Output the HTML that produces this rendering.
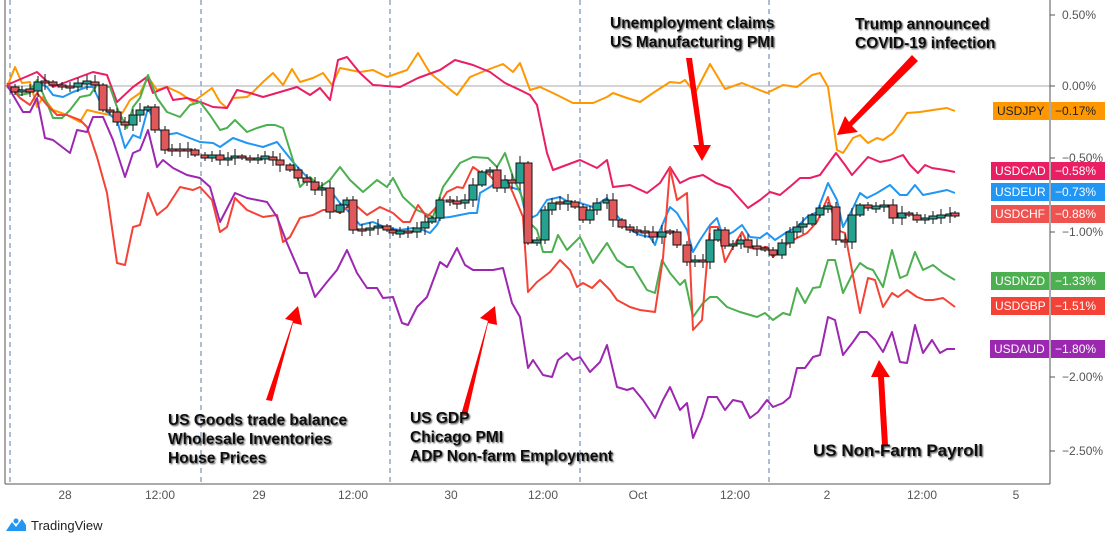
<!DOCTYPE html>
<html><head><meta charset="utf-8"><style>
html,body{margin:0;padding:0;background:#fff;width:1108px;height:538px;overflow:hidden}
svg{display:block;font-family:"Liberation Sans",sans-serif}
.ann{font-weight:bold;font-size:15.5px;fill:#111;filter:url(#sh)}
.ax{font-size:12px;fill:#555}
.ln{fill:none;stroke-width:2;stroke-linejoin:round}
</style></head><body>
<svg id="s" width="1108" height="538" viewBox="0 0 1108 538">
<defs><filter id="sh" x="-5%" y="-20%" width="110%" height="150%"><feDropShadow dx="1.2" dy="1.2" stdDeviation="0.8" flood-color="#444" flood-opacity="0.9"/></filter></defs>
<rect width="1108" height="538" fill="#fff"/>
<g stroke="#5a7bb0" stroke-dasharray="5,4" stroke-width="1">
<line x1="10" y1="0" x2="10" y2="484"/><line x1="201" y1="0" x2="201" y2="484"/><line x1="390" y1="0" x2="390" y2="484"/><line x1="580" y1="0" x2="580" y2="484"/><line x1="769" y1="0" x2="769" y2="484"/>
</g>
<line x1="5" y1="86" x2="1050" y2="86" stroke="#aaa" stroke-width="1"/>
<line x1="5" y1="0" x2="5" y2="484" stroke="#555"/>
<line x1="1050" y1="0" x2="1050" y2="484" stroke="#555"/>
<line x1="5" y1="484" x2="1050" y2="484" stroke="#555"/>
<g class="ax">
<text x="1062" y="19">0.50%</text><text x="1062" y="90">0.00%</text><text x="1062" y="162">−0.50%</text><text x="1062" y="236">−1.00%</text><text x="1062" y="381">−2.00%</text><text x="1062" y="455">−2.50%</text>
<text x="65" y="499" text-anchor="middle">28</text><text x="160" y="499" text-anchor="middle">12:00</text><text x="259" y="499" text-anchor="middle">29</text><text x="353" y="499" text-anchor="middle">12:00</text><text x="451" y="499" text-anchor="middle">30</text><text x="543" y="499" text-anchor="middle">12:00</text><text x="638" y="499" text-anchor="middle">Oct</text><text x="735" y="499" text-anchor="middle">12:00</text><text x="827" y="499" text-anchor="middle">2</text><text x="922" y="499" text-anchor="middle">12:00</text><text x="1016" y="499" text-anchor="middle">5</text>
</g>
<g stroke="#555"><line x1="1050" y1="15" x2="1055" y2="15"/><line x1="1050" y1="86" x2="1055" y2="86"/><line x1="1050" y1="158" x2="1055" y2="158"/><line x1="1050" y1="232" x2="1055" y2="232"/><line x1="1050" y1="377" x2="1055" y2="377"/><line x1="1050" y1="451" x2="1055" y2="451"/></g>

<polyline class="ln" stroke="#ff9800" points="7,87 15,67 22,83 30,82 37,107 43,97 53,110 67,115 80,122 87,110 100,113 110,115 118,117 123,112 130,100 140,93 148,77 157,90 167,87 180,93 193,102 212,88 220,102 227,108 233,98 247,97 253,92 263,82 273,73 283,85 292,69 300,82 313,78 323,73 332,85 340,68 360,72 373,70 387,77 407,70 418,53 430,73 447,87 457,95 470,77 487,70 503,64 513,72 520,63 530,90 540,87 553,93 573,103 593,103 607,97 613,93 627,98 640,102 653,93 670,82 680,83 685,80 695,93 710,64 725,89 742,83 752,87 767,93 783,85 797,87 812,75 820,73 828,87 837,150 843,153 853,138 860,135 868,143 877,138 883,140 893,133 907,113 920,112 933,110 947,108 955,111"/>
<polyline class="ln" stroke="#e91e63" points="7,85 37,72 53,87 93,72 107,75 117,102 133,87 147,77 153,93 167,87 173,100 187,98 203,103 213,107 227,108 237,90 250,93 263,97 287,90 297,87 310,95 320,88 330,100 338,60 347,57 360,73 373,85 400,87 418,78 440,70 455,60 473,65 490,72 505,83 520,90 530,95 537,105 547,153 553,170 580,160 597,168 607,160 613,187 630,185 647,193 660,183 670,167 680,183 690,178 703,175 716,183 730,188 748,208 760,200 770,192 780,195 792,185 800,178 810,178 820,175 836,153 845,165 852,175 868,157 880,162 890,160 903,155 910,165 918,173 925,165 932,168 945,170 955,172"/>
<polyline class="ln" stroke="#2196f3" points="7,87 20,90 27,92 37,82 47,87 53,95 63,97 73,92 87,87 93,87 100,102 110,115 117,120 125,148 133,135 140,138 148,108 157,127 165,135 177,133 187,137 200,142 213,143 220,147 233,138 247,143 263,147 277,142 293,162 307,177 320,187 330,190 340,203 350,213 360,225 373,222 387,228 400,230 413,228 423,230 430,233 437,225 440,218 450,217 470,213 477,213 480,193 490,187 500,180 510,187 520,190 527,220 537,215 547,200 560,197 570,203 580,203 593,207 607,198 615,213 627,228 640,235 650,237 655,245 660,230 670,207 677,213 687,230 693,252 700,240 710,225 717,218 723,237 733,232 742,225 750,237 760,238 767,233 775,240 787,232 797,227 807,217 817,212 828,183 837,200 843,227 852,210 860,193 867,198 877,193 890,185 900,195 907,195 915,185 923,195 933,193 947,190 955,193"/>
<polyline class="ln" stroke="#4caf50" points="7,87 20,95 30,93 37,80 47,103 53,118 62,118 70,110 80,97 90,95 97,85 110,87 118,110 127,128 133,107 140,98 148,75 157,98 167,112 180,117 190,105 200,102 210,115 220,130 227,128 235,120 247,132 257,128 267,125 275,125 283,128 293,160 300,187 310,177 320,187 330,180 340,167 350,180 363,192 377,180 387,187 393,178 403,197 417,210 433,217 443,187 460,163 473,157 488,158 497,167 505,153 513,177 522,197 530,223 537,230 543,252 552,252 558,235 567,250 580,237 593,263 607,243 617,260 627,267 633,267 647,290 655,293 662,260 670,273 680,285 685,280 693,317 703,303 710,297 717,297 727,307 740,312 757,317 765,313 773,320 783,313 790,315 797,288 805,303 813,288 820,287 828,260 835,260 843,293 852,275 860,263 867,268 873,270 883,287 892,250 900,278 907,275 915,252 923,270 933,265 943,273 955,280"/>
<polyline class="ln" stroke="#f44336" points="7,83 20,98 30,105 37,93 47,105 57,115 67,115 80,120 87,127 97,157 107,193 117,263 125,265 133,227 140,225 148,193 157,215 167,207 180,187 193,190 200,187 212,200 220,232 227,227 235,198 247,210 263,217 277,215 283,242 290,237 300,218 313,215 323,210 333,210 340,213 353,203 367,215 380,207 393,213 403,222 410,222 418,205 427,217 440,203 447,192 457,187 463,188 473,167 480,172 487,173 497,183 507,180 513,193 523,217 528,292 537,282 550,272 560,260 570,270 577,287 583,283 592,288 600,280 610,290 617,300 630,307 640,310 655,312 663,258 670,168 677,200 687,193 693,330 702,320 710,227 718,227 725,262 733,247 742,232 750,248 760,248 767,247 773,257 783,247 790,242 797,238 807,233 817,222 828,197 837,230 845,233 860,313 868,278 875,280 883,307 892,293 898,297 907,290 917,297 925,300 933,300 943,298 955,307"/>
<polyline class="ln" stroke="#9c27b0" points="7,85 23,112 30,112 37,98 45,138 53,140 70,153 77,130 87,132 93,117 103,117 113,140 125,177 133,153 140,150 148,130 157,167 163,160 173,168 187,175 200,178 210,187 220,222 235,193 247,198 267,202 277,217 287,243 300,273 307,273 315,297 327,282 337,270 347,250 357,273 367,288 377,288 383,298 393,297 402,323 408,325 417,307 427,297 440,262 447,267 457,248 465,265 473,270 493,270 503,268 512,303 520,317 528,368 533,360 543,375 552,377 558,360 567,353 573,360 580,357 590,372 600,362 607,345 617,387 627,390 633,388 643,400 655,418 663,400 670,387 680,410 687,403 693,438 702,417 708,397 717,397 725,410 733,400 742,402 750,418 758,412 767,400 773,407 783,403 790,397 797,368 805,368 813,357 820,355 828,317 835,320 843,355 853,342 860,332 867,332 875,340 883,352 892,332 900,362 907,363 915,325 923,353 932,340 940,353 947,349 955,349"/>
<g id="candles"></g>

<g fill="#ff0000">
<polygon points="266,400 272,401 293,323 302,325 298,306 285,319 293,321"/>
<polygon points="461,415 467,416 488,323 497,325 495,306 480,318 488,321"/>
<polygon points="686,58 692,58 704,145 711,145 702,161 693,145 699,145"/>
<polygon points="912,55 918,61 852,126 858,132 837,135 845,116 849,122"/>
<polygon points="882,445 888,445 884,377 890,377 879,360 871,377 878,377"/>
</g>

<text class="ann" x="610" y="28">Unemployment claims</text>
<text class="ann" x="610" y="47">US Manufacturing PMI</text>
<text class="ann" x="855" y="29">Trump announced</text>
<text class="ann" x="855" y="48">COVID-19 infection</text>
<text class="ann" x="168" y="425">US Goods trade balance</text>
<text class="ann" x="168" y="444">Wholesale Inventories</text>
<text class="ann" x="168" y="463">House Prices</text>
<text class="ann" x="410" y="423">US GDP</text>
<text class="ann" x="410" y="442">Chicago PMI</text>
<text class="ann" x="410" y="461">ADP Non-farm Employment</text>
<text class="ann" x="813" y="456" style="font-size:17px">US Non-Farm Payroll</text>

<g font-size="12">
<rect x="993" y="102" width="56" height="18" fill="#ff9800"/><rect x="1051" y="102" width="54" height="18" fill="#ff9800"/>
<text x="997" y="115" fill="#222">USDJPY</text><text x="1055" y="115" fill="#222">−0.17%</text>
<rect x="991" y="162" width="58" height="18" fill="#e91e63"/><rect x="1051" y="162" width="54" height="18" fill="#e91e63"/>
<text x="995" y="175" fill="#fff">USDCAD</text><text x="1055" y="175" fill="#fff">−0.58%</text>
<rect x="991" y="183" width="58" height="18" fill="#2196f3"/><rect x="1051" y="183" width="54" height="18" fill="#2196f3"/>
<text x="995" y="196" fill="#fff">USDEUR</text><text x="1055" y="196" fill="#fff">−0.73%</text>
<rect x="991" y="205" width="58" height="18" fill="#ef5350"/><rect x="1051" y="205" width="54" height="18" fill="#ef5350"/>
<text x="995" y="218" fill="#fff">USDCHF</text><text x="1055" y="218" fill="#fff">−0.88%</text>
<rect x="991" y="272" width="58" height="18" fill="#4caf50"/><rect x="1051" y="272" width="54" height="18" fill="#4caf50"/>
<text x="995" y="285" fill="#fff">USDNZD</text><text x="1055" y="285" fill="#fff">−1.33%</text>
<rect x="991" y="297" width="58" height="18" fill="#f44336"/><rect x="1051" y="297" width="54" height="18" fill="#f44336"/>
<text x="995" y="310" fill="#fff">USDGBP</text><text x="1055" y="310" fill="#fff">−1.51%</text>
<rect x="990" y="340" width="59" height="18" fill="#9c27b0"/><rect x="1051" y="340" width="54" height="18" fill="#9c27b0"/>
<text x="994" y="353" fill="#fff">USDAUD</text><text x="1055" y="353" fill="#fff">−1.80%</text>
</g>

<g transform="translate(6,517)">
<path d="M0,14 L6,5 L10,10 L16,2 L20,8 L20,14 Z" fill="#2196f3"/>
<circle cx="10" cy="4" r="2.5" fill="#2196f3"/>
</g>
<text x="31" y="530" font-size="13" fill="#222">TradingView</text>
</svg>
<script>
var c=[[7,87],[15,92],[22,90],[30,91],[38,82],[45,82],[53,85],[62,87],[70,87],[78,83],[87,82],[95,85],[103,110],[110,112],[117,122],[125,125],[133,115],[140,110],[148,107],[155,130],[165,150],[172,150],[180,150],[188,150],[195,155],[205,158],[212,155],[220,160],[228,158],[235,156],[242,158],[250,160],[258,158],[265,157],[273,160],[280,165],[290,170],[298,178],[307,182],[315,190],[322,188],[330,212],[340,205],[347,200],[353,230],[362,230],[370,228],[378,226],[387,230],[393,233],[400,232],[408,232],[417,228],[425,222],[432,218],[440,200],[450,202],[457,203],[465,200],[473,185],[482,172],[490,170],[497,188],[505,180],[512,183],[520,163],[528,243],[537,240],[545,210],[552,203],[560,203],[568,202],[575,207],[583,220],[590,210],[597,203],[607,200],[613,220],[622,227],[630,230],[637,232],[645,232],[653,237],[662,232],[670,232],[677,245],[687,262],[695,260],[703,262],[710,240],[718,230],[725,246],[733,244],[741,240],[748,247],[757,248],[765,250],[773,255],[782,243],[790,232],[797,227],[803,224],[812,215],[820,208],[828,207],[836,240],[845,242],[852,215],[860,205],[868,208],[876,207],[884,205],[893,218],[902,213],[909,215],[917,220],[925,218],[933,217],[941,216],[950,214],[955,215]];
var g=document.getElementById('candles'),h='';
for(var i=1;i<c.length;i++){var o=c[i-1][1],cl=c[i][1],x=c[i][0];var t=Math.min(o,cl),b=Math.max(o,cl);if(b-t<2){t-=1;b+=1;}
var up=cl<o;var w=((i*37)%6)+2;
h+='<line x1="'+x+'" y1="'+(t-w)+'" x2="'+x+'" y2="'+(b+w)+'" stroke="#111" stroke-width="1"/>';
h+='<rect x="'+(x-4)+'" y="'+t+'" width="8" height="'+(b-t)+'" fill="'+(up?'#26a18f':'#e0585a')+'" stroke="#111" stroke-width="1"/>';}
g.innerHTML=h;
</script>
</body></html>
